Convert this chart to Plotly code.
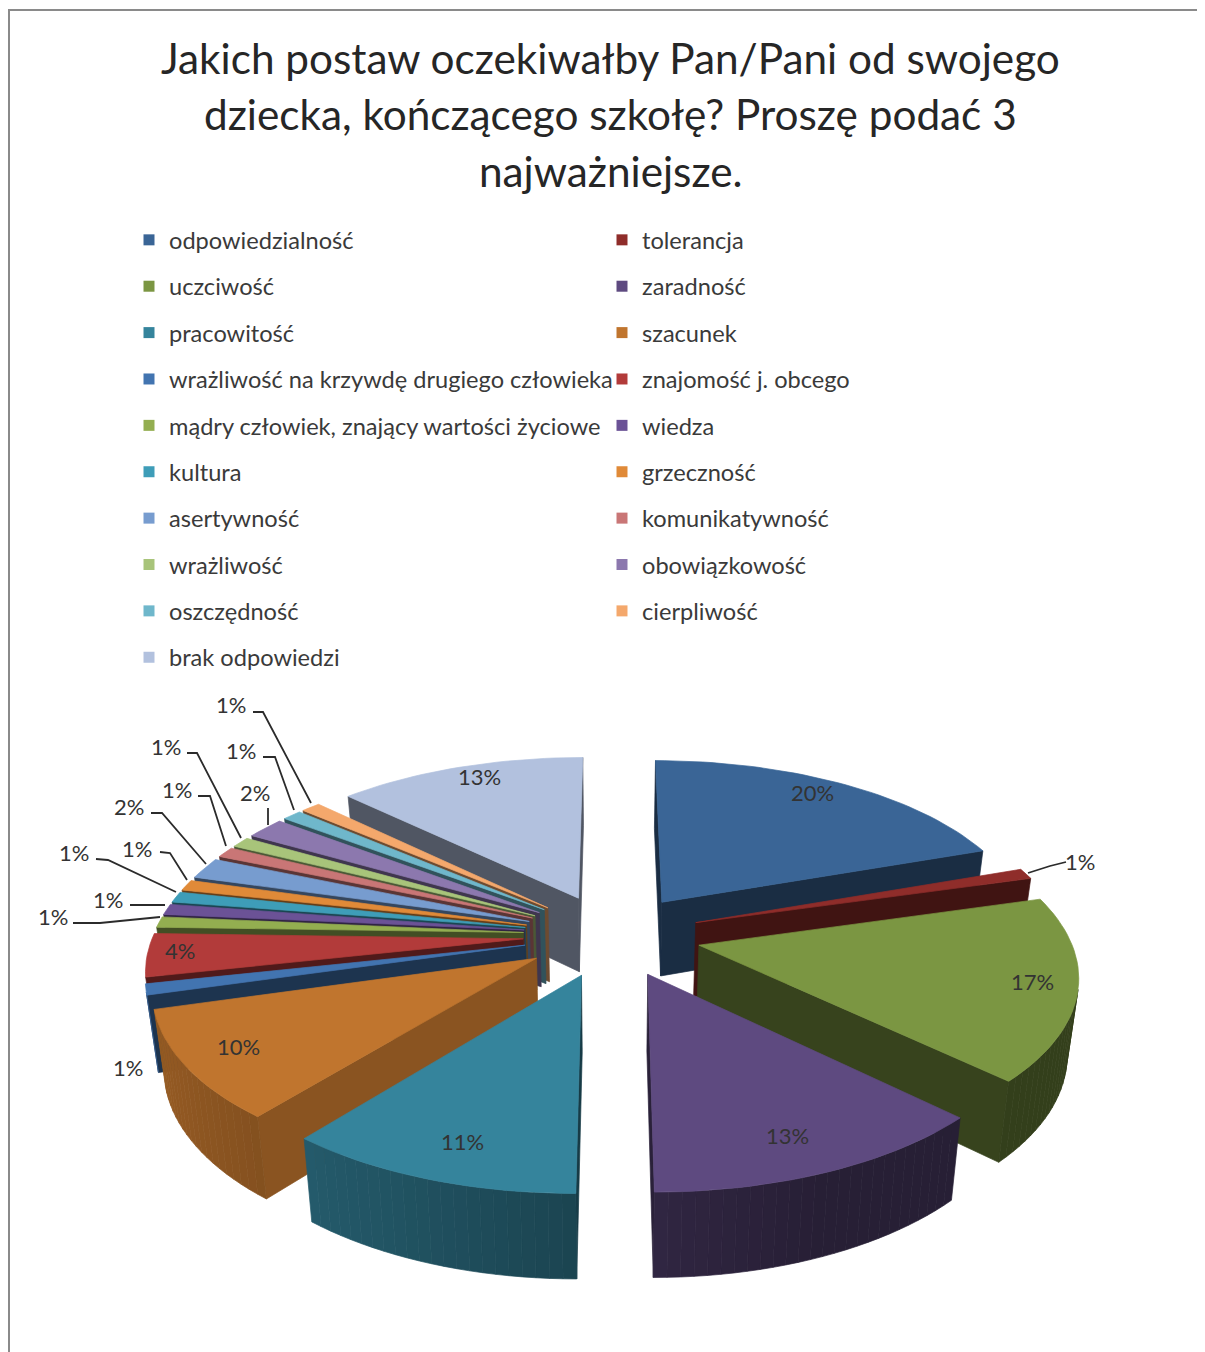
import math
import plotly.graph_objects as go

title_lines = ["Jakich postaw oczekiwałby Pan/Pani od swojego",
               "dziecka, kończącego szkołę? Proszę podać 3",
               "najważniejsze."]
categories = ["odpowiedzialność", "tolerancja", "uczciwość", "zaradność", "pracowitość", "szacunek",
              "wrażliwość na krzywdę drugiego człowieka", "znajomość j. obcego",
              "mądry człowiek, znający wartości życiowe", "wiedza", "kultura", "grzeczność",
              "asertywność", "komunikatywność", "wrażliwość", "obowiązkowość", "oszczędność",
              "cierpliwość", "brak odpowiedzi"]
percent = [20, 1, 17, 13, 11, 10, 1, 4, 1, 1, 1, 1, 2, 1, 1, 2, 1, 1, 13]
colors = ["#3A6596", "#8F2D2A", "#7B9642", "#5E4A80", "#35849C", "#C0752E", "#4274B0", "#B23B3A",
          "#93AE50", "#6B5296", "#3E9DB8", "#E08A38", "#779CCF", "#C97676", "#A8C47A", "#8C78AE",
          "#6FB7CB", "#F4A86C", "#B2C1DE"]

# label anchor centres and leader paths, in picture pixels
label_pos = [(812, 792), (1080, 861), (1032, 981), (787, 1135), (462, 1141), (238, 1046), (128, 1067),
             (180, 950), (53, 916), (108, 899), (74, 852), (137, 848), (129, 806), (177, 789),
             (166, 746), (255, 792), (241, 750), (231, 704), (479, 776)]
leaders = {1: [(1028, 873), (1050, 866), (1066, 862)],
           8: [(73, 923), (100, 923), (160, 917)],
           9: [(130, 905), (165, 905)],
           10: [(96, 859), (108, 860), (176, 892)],
           11: [(160, 852), (170, 853), (187, 880)],
           12: [(151, 813), (162, 813), (206, 864)],
           13: [(198, 796), (210, 796), (226, 846)],
           14: [(187, 753), (197, 753), (241, 838)],
           15: [(268, 808), (268, 825)],
           16: [(263, 757), (275, 757), (294, 810)],
           17: [(253, 712), (263, 712), (311, 803)]}

# projection parameters of the pie
CX, CY = 612, 935
A, B = 370, 172
PERSP = 0.15
EXPLODE = 0.24
DEPTH = 75
SHRINK = 0.025


def project(X, Y, bottom=False):
    s = 1 / (1 + PERSP * Y)
    k = 1 - SHRINK if bottom else 1
    return (CX + A * X * s * k, CY - B * Y * s * k + (DEPTH * s if bottom else 0))


def darker(hex_color, f):
    r, g, b = (int(hex_color[i:i + 2], 16) for i in (1, 3, 5))
    return f"rgb({int(r * f)},{int(g * f)},{int(b * f)})"


def area(poly):
    return sum(poly[i][0] * poly[(i + 1) % len(poly)][1] - poly[(i + 1) % len(poly)][0] * poly[i][1]
               for i in range(len(poly)))


fig = go.Figure()


def add_poly(poly, fill, name):
    fig.add_trace(go.Scatter(x=[p[0] for p in poly] + [poly[0][0]], y=[p[1] for p in poly] + [poly[0][1]],
                             mode="lines", fill="toself", fillcolor=fill, line=dict(color=fill, width=0.7),
                             showlegend=False, hoverinfo="text", text=name))


total = sum(percent)
slices = []
cum = 0
for i, v in enumerate(percent):
    t0 = 2 * math.pi * cum / total
    t1 = 2 * math.pi * (cum + v) / total
    cum += v
    slices.append((i, t0, t1))


def wall_shade(theta):
    # the outer wall is lit from the left
    return max(0.42, 0.52 - 0.27 * math.sin(theta))


def draw_slice(i, t0, t1):
    mid = (t0 + t1) / 2
    ex, ey = EXPLODE * math.sin(mid), EXPLODE * math.cos(mid)
    n = max(4, int((t1 - t0) / 0.03))
    angles = [t0 + (t1 - t0) * k / n for k in range(n + 1)]
    rim = [(ex + math.sin(a), ey + math.cos(a)) for a in angles]
    col = colors[i]
    name = categories[i]
    apex_t, apex_b = project(ex, ey), project(ex, ey, True)
    # radial walls
    for a_pt in (rim[0], rim[-1]):
        quad = [apex_t, project(*a_pt), project(*a_pt, True), apex_b]
        if (a_pt is rim[0] and area(quad) < 0) or (a_pt is rim[-1] and area(quad) > 0):
            add_poly(quad, darker(col, 0.72 if i == 5 else 0.45), name)
    # outer wall, only the part that faces the viewer, one shaded strip per step
    for k in range(n):
        quad = [project(*rim[k]), project(*rim[k + 1]), project(*rim[k + 1], True), project(*rim[k], True)]
        if area(quad) < 0:
            add_poly(quad, darker(col, wall_shade((angles[k] + angles[k + 1]) / 2)), name)
    # top face
    add_poly([apex_t] + [project(*p) for p in rim], col, name)


# painter's order: far slices first
for i, t0, t1 in sorted(slices, key=lambda s: -math.cos((s[1] + s[2]) / 2)):
    draw_slice(i, t0, t1)

# leader lines
for i, path in leaders.items():
    fig.add_trace(go.Scatter(x=[p[0] for p in path], y=[p[1] for p in path], mode="lines",
                             line=dict(color="#2b2b2b", width=1.8), showlegend=False, hoverinfo="skip"))

# data labels
for i, v in enumerate(percent):
    fig.add_annotation(x=label_pos[i][0], y=label_pos[i][1], text=f"{v}%", showarrow=False,
                       font=dict(family="Lato", size=22, color="#333333"))

# legend entries, two columns
for i, name in enumerate(categories):
    fig.add_trace(go.Scatter(x=[None], y=[None], mode="markers", name=name,
                             marker=dict(symbol="square", size=11, color=colors[i]),
                             legendgroup=f"g{i}", legend="legend" if i % 2 == 0 else "legend2"))

legend_font = dict(family="Lato", size=23.6, color="#3a3a3a")
# the page's body margin takes 8 px at the left and top
PAGE = 8
W, H = 1205 - PAGE, 1352 - PAGE
LEG_TOP = 218
GAP = 12.7
fig.update_layout(
    width=W, height=H, margin=dict(l=0, r=0, t=0, b=0),
    paper_bgcolor="white", plot_bgcolor="white",
    xaxis=dict(visible=False, range=[PAGE, W + PAGE], fixedrange=True),
    yaxis=dict(visible=False, range=[H + PAGE, PAGE], fixedrange=True),
    legend=dict(x=(129 - PAGE) / W, y=1 - (LEG_TOP - PAGE) / H, xanchor="left", yanchor="top", font=legend_font,
                tracegroupgap=GAP, bgcolor="rgba(0,0,0,0)", traceorder="grouped"),
    legend2=dict(x=(602 - PAGE) / W, y=1 - (LEG_TOP - PAGE) / H, xanchor="left", yanchor="top", font=legend_font,
                 tracegroupgap=GAP, bgcolor="rgba(0,0,0,0)", traceorder="grouped"),
    showlegend=True,
    shapes=[dict(type="line", xref="x", yref="y", x0=8, x1=1205, y0=10, y1=10,
                 line=dict(color="#8a8a8a", width=2), layer="below"),
            dict(type="line", xref="x", yref="y", x0=9, x1=9, y0=10, y1=1352,
                 line=dict(color="#8a8a8a", width=2), layer="below")],
)
for y, line in zip((57, 113, 170), title_lines):
    fig.add_annotation(x=610, y=y, text=line, showarrow=False,
                       font=dict(family="Lato", size=42.3, color="#262626"))

fig.write_html("out.html")
